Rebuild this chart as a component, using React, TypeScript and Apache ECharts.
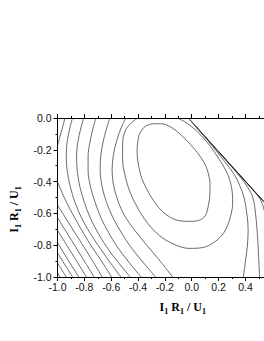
import React, { useEffect, useRef } from 'react';
import * as echarts from 'echarts';

// axis ranges / ticks
const X_MIN = -1;
const X_MAX = 1;
const Y_MIN = -1;
const Y_MAX = 0;
const TICK_STEP = 0.2;

// innermost closed contour
const C1 = [[-0.283,-0.036],[-0.225,-0.036],[-0.156,-0.057],[-0.095,-0.095],[-0.039,-0.141],[0.015,-0.19],[0.066,-0.246],[0.104,-0.30],[0.124,-0.352],[0.136,-0.415],[0.135,-0.478],[0.124,-0.55],[0.100,-0.615],[0.05,-0.645],[-0.016,-0.650],[-0.075,-0.648],[-0.133,-0.636],[-0.195,-0.605],[-0.248,-0.562],[-0.30,-0.50],[-0.342,-0.436],[-0.372,-0.38],[-0.388,-0.331],[-0.403,-0.265],[-0.407,-0.205],[-0.402,-0.15],[-0.388,-0.099],[-0.353,-0.057],[-0.32,-0.042],[-0.283,-0.036]];
// second contour (open at the top edge)
const C2 = [[-0.40,0],[-0.45,-0.03],[-0.495,-0.08],[-0.515,-0.16],[-0.515,-0.26],[-0.497,-0.36],[-0.458,-0.47],[-0.40,-0.57],[-0.33,-0.66],[-0.24,-0.74],[-0.13,-0.795],[-0.02,-0.82],[0.08,-0.815],[0.17,-0.78],[0.24,-0.72],[0.285,-0.63],[0.305,-0.53],[0.295,-0.43],[0.26,-0.34],[0.205,-0.26],[0.14,-0.18],[0.07,-0.11],[0.0,-0.055],[-0.06,-0.02],[-0.107,0]];
// left branches starting at the top edge
const P1 = [[-0.49,0],[-0.525,-0.06],[-0.558,-0.14],[-0.583,-0.23],[-0.593,-0.32],[-0.583,-0.42],[-0.55,-0.52],[-0.50,-0.615],[-0.43,-0.70],[-0.35,-0.785],[-0.25,-0.885],[-0.142,-1.0]];
const P2 = [[-0.61,0],[-0.636,-0.07],[-0.66,-0.15],[-0.678,-0.24],[-0.682,-0.33],[-0.668,-0.43],[-0.635,-0.53],[-0.585,-0.63],[-0.525,-0.72],[-0.455,-0.81],[-0.37,-0.90],[-0.269,-1.0]];
const P3 = [[-0.714,0],[-0.737,-0.07],[-0.758,-0.15],[-0.772,-0.24],[-0.772,-0.33],[-0.755,-0.43],[-0.72,-0.53],[-0.675,-0.63],[-0.62,-0.72],[-0.555,-0.81],[-0.475,-0.90],[-0.377,-1.0]];
const P4 = [[-0.805,0],[-0.828,-0.07],[-0.848,-0.15],[-0.858,-0.24],[-0.853,-0.33],[-0.834,-0.43],[-0.80,-0.53],[-0.755,-0.63],[-0.70,-0.72],[-0.635,-0.81],[-0.555,-0.90],[-0.458,-1.0]];
const P5 = [[-0.888,0],[-0.91,-0.07],[-0.928,-0.15],[-0.935,-0.24],[-0.928,-0.33],[-0.905,-0.43],[-0.87,-0.53],[-0.82,-0.63],[-0.76,-0.72],[-0.69,-0.81],[-0.615,-0.90],[-0.528,-1.0]];
const P6 = [[-0.944,0],[-0.963,-0.06],[-0.983,-0.12],[-1.0,-0.175]];
// left branches entering from the left edge
const Q1 = [[-1.0,-0.40],[-0.95,-0.50],[-0.89,-0.60],[-0.83,-0.69],[-0.76,-0.79],[-0.68,-0.89],[-0.597,-1.0]];
const Q2 = [[-1.0,-0.547],[-0.935,-0.635],[-0.868,-0.725],[-0.80,-0.815],[-0.733,-0.907],[-0.667,-1.0]];
const Q3 = [[-1.0,-0.627],[-0.93,-0.722],[-0.862,-0.815],[-0.794,-0.908],[-0.726,-1.0]];
const Q4 = [[-1.0,-0.706],[-0.928,-0.804],[-0.856,-0.902],[-0.784,-1.0]];
const Q5 = [[-1.0,-0.785],[-0.921,-0.893],[-0.842,-1.0]];
const Q6 = [[-1.0,-0.848],[-0.944,-0.924],[-0.888,-1.0]];
const Q7 = [[-1.0,-0.912],[-0.935,-1.0]];
const Q8 = [[-1.0,-0.974],[-0.981,-1.0]];
// right branches hugging the boundary line
const R3 = [[-0.012,-0.013],[0.05,-0.075],[0.12,-0.142],[0.19,-0.215],[0.26,-0.29],[0.32,-0.36],[0.36,-0.43],[0.39,-0.50],[0.41,-0.60],[0.42,-0.70],[0.415,-0.80],[0.40,-0.90],[0.385,-1.0]];
const R4 = [[0.03,-0.052],[0.12,-0.138],[0.21,-0.224],[0.30,-0.31],[0.37,-0.38],[0.42,-0.44],[0.455,-0.50],[0.475,-0.60],[0.488,-0.72],[0.497,-0.85],[0.505,-1.0]];
const R5 = [[0.10,-0.118],[0.2,-0.212],[0.3,-0.306],[0.4,-0.40],[0.47,-0.467],[0.51,-0.51],[0.54,-0.58],[0.565,-0.68],[0.58,-0.80],[0.59,-0.92],[0.595,-1.0]];
const R6 = [[0.2,-0.2115],[0.35,-0.352],[0.5,-0.4925],[0.57,-0.56],[0.61,-0.62],[0.64,-0.72],[0.66,-0.85],[0.67,-1.0]];
const R7 = [[0.35,-0.3512],[0.55,-0.5386],[0.65,-0.633],[0.70,-0.70],[0.73,-0.80],[0.75,-1.0]];
// boundary line
const BOUNDARY = [[-0.025,0],[0.75,-0.7254]];

const CONTOURS = [C1, C2, P1, P2, P3, P4, P5, P6, Q1, Q2, Q3, Q4, Q5, Q6, Q7, Q8, R3, R4, R5, R6, R7];

const AXIS_NAME = '{b|I}{s|1}{b| R}{s|1}{b| / U}{s|1}';

export default function App() {
  const ref = useRef<HTMLDivElement>(null);
  useEffect(() => {
    const chart = echarts.init(ref.current!, undefined, { renderer: 'svg' });
    const serif = '"Liberation Serif", "Times New Roman", serif';
    const sans = '"Liberation Sans", Arial, sans-serif';
    const rich = {
      b: { fontFamily: serif, fontWeight: 'bold', fontSize: 12, color: '#000' },
      s: { fontFamily: serif, fontWeight: 'bold', fontSize: 8, color: '#000', padding: [9, 0, 0, 0] },
    };
    const lineC = { color: '#000', width: 1 };
    const fmt = (v: number) => (Math.abs(v) < 1e-9 ? '0.0' : v.toFixed(1));
    const baseAxis = {
      type: 'value',
      interval: TICK_STEP,
      splitLine: { show: false },
      axisLine: { show: true, onZero: false, lineStyle: lineC },
      axisTick: { show: true, inside: false, length: 4, lineStyle: lineC },
      minorTick: { show: true, splitNumber: 2, length: 2, lineStyle: lineC },
    };
    chart.setOption({
      animation: false,
      backgroundColor: '#fff',
      grid: { left: 39, top: 118, width: 287, height: 159 },
      xAxis: [
        {
          ...baseAxis,
          position: 'bottom',
          min: X_MIN,
          max: X_MAX,
          axisLabel: { formatter: fmt, fontSize: 10.5, color: '#111', margin: 4, fontFamily: sans },
          name: AXIS_NAME,
          nameLocation: 'middle',
          nameGap: 21,
          nameTextStyle: { rich, padding: [0, 18, 0, 0] },
        },
        {
          ...baseAxis,
          position: 'top',
          min: X_MIN,
          max: X_MAX,
          axisLabel: { show: false },
        },
      ],
      yAxis: [
        {
          ...baseAxis,
          position: 'left',
          min: Y_MIN,
          max: Y_MAX,
          axisLabel: { formatter: fmt, fontSize: 10.5, color: '#111', margin: 6, fontFamily: sans },
          name: AXIS_NAME,
          nameLocation: 'middle',
          nameGap: 27,
          nameTextStyle: { rich, padding: [0, 24, 0, 0] },
        },
        {
          ...baseAxis,
          position: 'right',
          min: Y_MIN,
          max: Y_MAX,
          axisLabel: { show: false },
        },
      ],
      series: [
        ...CONTOURS.map((d) => ({
          type: 'line',
          data: d,
          showSymbol: false,
          symbol: 'none',
          smooth: 0.35,
          silent: true,
          clip: true,
          lineStyle: { color: '#3a3a3a', width: 0.75 },
        })),
        {
          type: 'line',
          data: BOUNDARY,
          showSymbol: false,
          symbol: 'none',
          silent: true,
          clip: true,
          lineStyle: { color: '#222', width: 0.9 },
        },
      ],
    });
    return () => chart.dispose();
  }, []);
  return (
    <div style={{ position: 'fixed', left: 0, top: 0, width: 264, height: 341, overflow: 'hidden', background: '#fff' }}>
      <div ref={ref} style={{ width: 340, height: 341 }} />
    </div>
  );
}
